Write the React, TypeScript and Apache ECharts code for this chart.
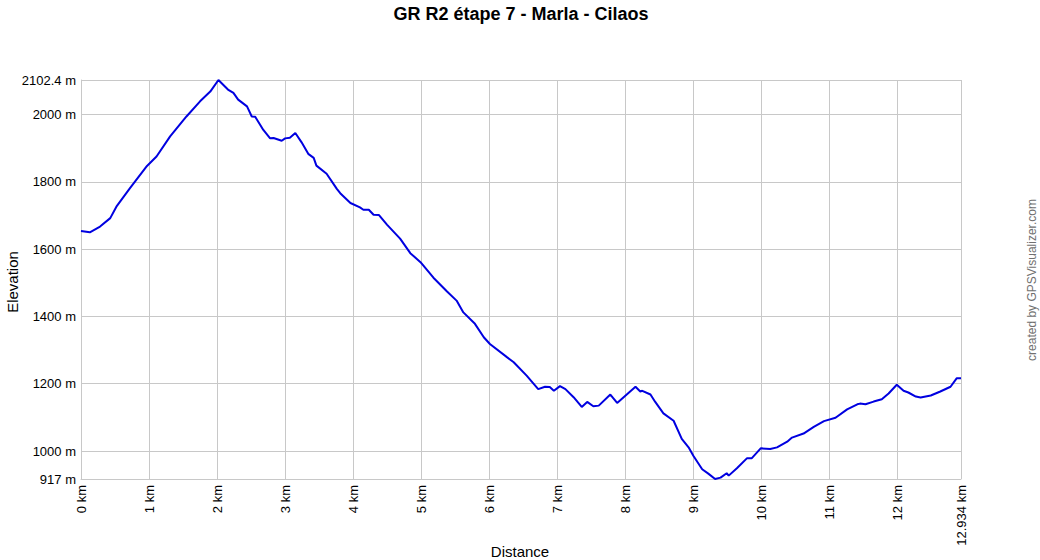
import React, { useEffect, useRef } from "react";
import * as echarts from "echarts";

const titleText = "GR R2 étape 7 - Marla - Cilaos";
const xName = "Distance";
const yName = "Elevation";
const credit = "created by GPSVisualizer.com";

const distKm = [
  0.0, 0.13, 0.28, 0.43, 0.52, 0.72, 0.97, 1.11, 1.31, 1.55, 1.75, 1.9, 2.02,
  2.16, 2.24, 2.31, 2.44, 2.51, 2.56, 2.68, 2.78, 2.83, 2.95, 3.0, 3.07, 3.15,
  3.24, 3.34, 3.42, 3.46, 3.61, 3.76, 3.81, 3.96, 4.1, 4.15, 4.23, 4.3, 4.38,
  4.5, 4.69, 4.84, 4.99, 5.18, 5.38, 5.52, 5.62, 5.79, 5.92, 6.01, 6.26, 6.36,
  6.55, 6.72, 6.82, 6.89, 6.95, 7.04, 7.12, 7.24, 7.36, 7.44, 7.53, 7.61, 7.78,
  7.88, 8.15, 8.22, 8.25, 8.37, 8.44, 8.56, 8.71, 8.83, 8.93, 9.0, 9.13, 9.22,
  9.32, 9.4, 9.49, 9.52, 9.64, 9.79, 9.86, 9.99, 10.13, 10.23, 10.38, 10.45,
  10.62, 10.77, 10.92, 11.09, 11.26, 11.41, 11.45, 11.53, 11.65, 11.77, 11.87,
  11.99, 12.09, 12.16, 12.27, 12.34, 12.49, 12.63, 12.78, 12.87, 12.934,
];

const elevM = [
  1654, 1650, 1667, 1692, 1726, 1781, 1847, 1875, 1935, 1994, 2039, 2068,
  2102.4, 2074, 2064, 2044, 2024, 1994, 1993, 1954, 1929, 1930, 1922, 1929,
  1931, 1945, 1918, 1883, 1871, 1848, 1824, 1779, 1766, 1737, 1724, 1717, 1717,
  1702, 1701, 1672, 1631, 1588, 1561, 1515, 1474, 1447, 1412, 1378, 1338, 1318,
  1279, 1264, 1224, 1184, 1191, 1190, 1179, 1193, 1184, 1160, 1131, 1146, 1133,
  1135, 1168, 1143, 1191, 1177, 1179, 1168, 1146, 1112, 1090, 1036, 1011, 986,
  946, 933, 917, 921, 934, 927, 949, 979, 979, 1008, 1006, 1011, 1028, 1040,
  1052, 1072, 1089, 1099, 1124, 1139, 1141, 1139, 1147, 1154, 1171, 1197, 1179,
  1174, 1162, 1159, 1165, 1177, 1191, 1216, 1216,
];

const xMin = 0;
const xMax = 12.934;
const yMin = 917;
const yMax = 2102.4;

export default function App() {
  const ref = useRef<HTMLDivElement>(null);

  useEffect(() => {
    if (!ref.current) return;
    const chart = echarts.init(ref.current, undefined, { renderer: "svg" });
    const font = "'Liberation Sans', Arial, sans-serif";
    const gridColor = "#c8c8c8";
    chart.setOption({
      animation: false,
      backgroundColor: "#ffffff",
      grid: { left: 81, right: 79, top: 80, bottom: 81, containLabel: false },
      xAxis: {
        type: "value",
        min: xMin,
        max: xMax,
        interval: 1,
        axisLine: { show: true, lineStyle: { color: gridColor, width: 1 } },
        axisTick: { show: false },
        splitLine: { show: true, lineStyle: { color: gridColor, width: 1 } },
        axisLabel: {
          rotate: 90,
          margin: 6,
          color: "#000",
          fontFamily: font,
          fontSize: 13,
          showMinLabel: true,
          showMaxLabel: true,
          formatter: (v: number) => `${v} km`,
        },
      },
      yAxis: {
        type: "value",
        min: yMin,
        max: yMax,
        splitNumber: 6,
        axisLine: { show: true, lineStyle: { color: gridColor, width: 1 } },
        axisTick: { show: false },
        splitLine: { show: true, lineStyle: { color: gridColor, width: 1 } },
        axisLabel: {
          margin: 5,
          color: "#000",
          fontFamily: font,
          fontSize: 13,
          showMinLabel: true,
          showMaxLabel: true,
          formatter: (v: number) => `${v} m`,
        },
      },
      series: [
        {
          type: "line",
          data: distKm.map((d, i) => [d, elevM[i]]),
          showSymbol: false,
          symbol: "none",
          lineStyle: { color: "#0000e0", width: 2 },
          z: 5,
        },
      ],
      graphic: [
        {
          type: "text",
          x: 521,
          y: 14,
          style: {
            text: titleText,
            fontFamily: font,
            fontSize: 18,
            fontWeight: "bold",
            fill: "#000",
            textAlign: "center",
            textVerticalAlign: "middle",
          },
        },
        {
          type: "text",
          x: 520,
          y: 551,
          style: {
            text: xName,
            fontFamily: font,
            fontSize: 15,
            fill: "#000",
            textAlign: "center",
            textVerticalAlign: "middle",
          },
        },
        {
          type: "text",
          x: 12,
          y: 282,
          rotation: Math.PI / 2,
          style: {
            text: yName,
            fontFamily: font,
            fontSize: 15,
            fill: "#000",
            textAlign: "center",
            textVerticalAlign: "middle",
          },
        },
        {
          type: "text",
          x: 1032,
          y: 280,
          rotation: Math.PI / 2,
          style: {
            text: credit,
            fontFamily: font,
            fontSize: 12,
            fill: "#707070",
            textAlign: "center",
            textVerticalAlign: "middle",
          },
        },
      ],
    });
    return () => chart.dispose();
  }, []);

  return (
    <div
      ref={ref}
      style={{ position: "fixed", left: 0, top: 0, width: 1040, height: 560 }}
    />
  );
}
